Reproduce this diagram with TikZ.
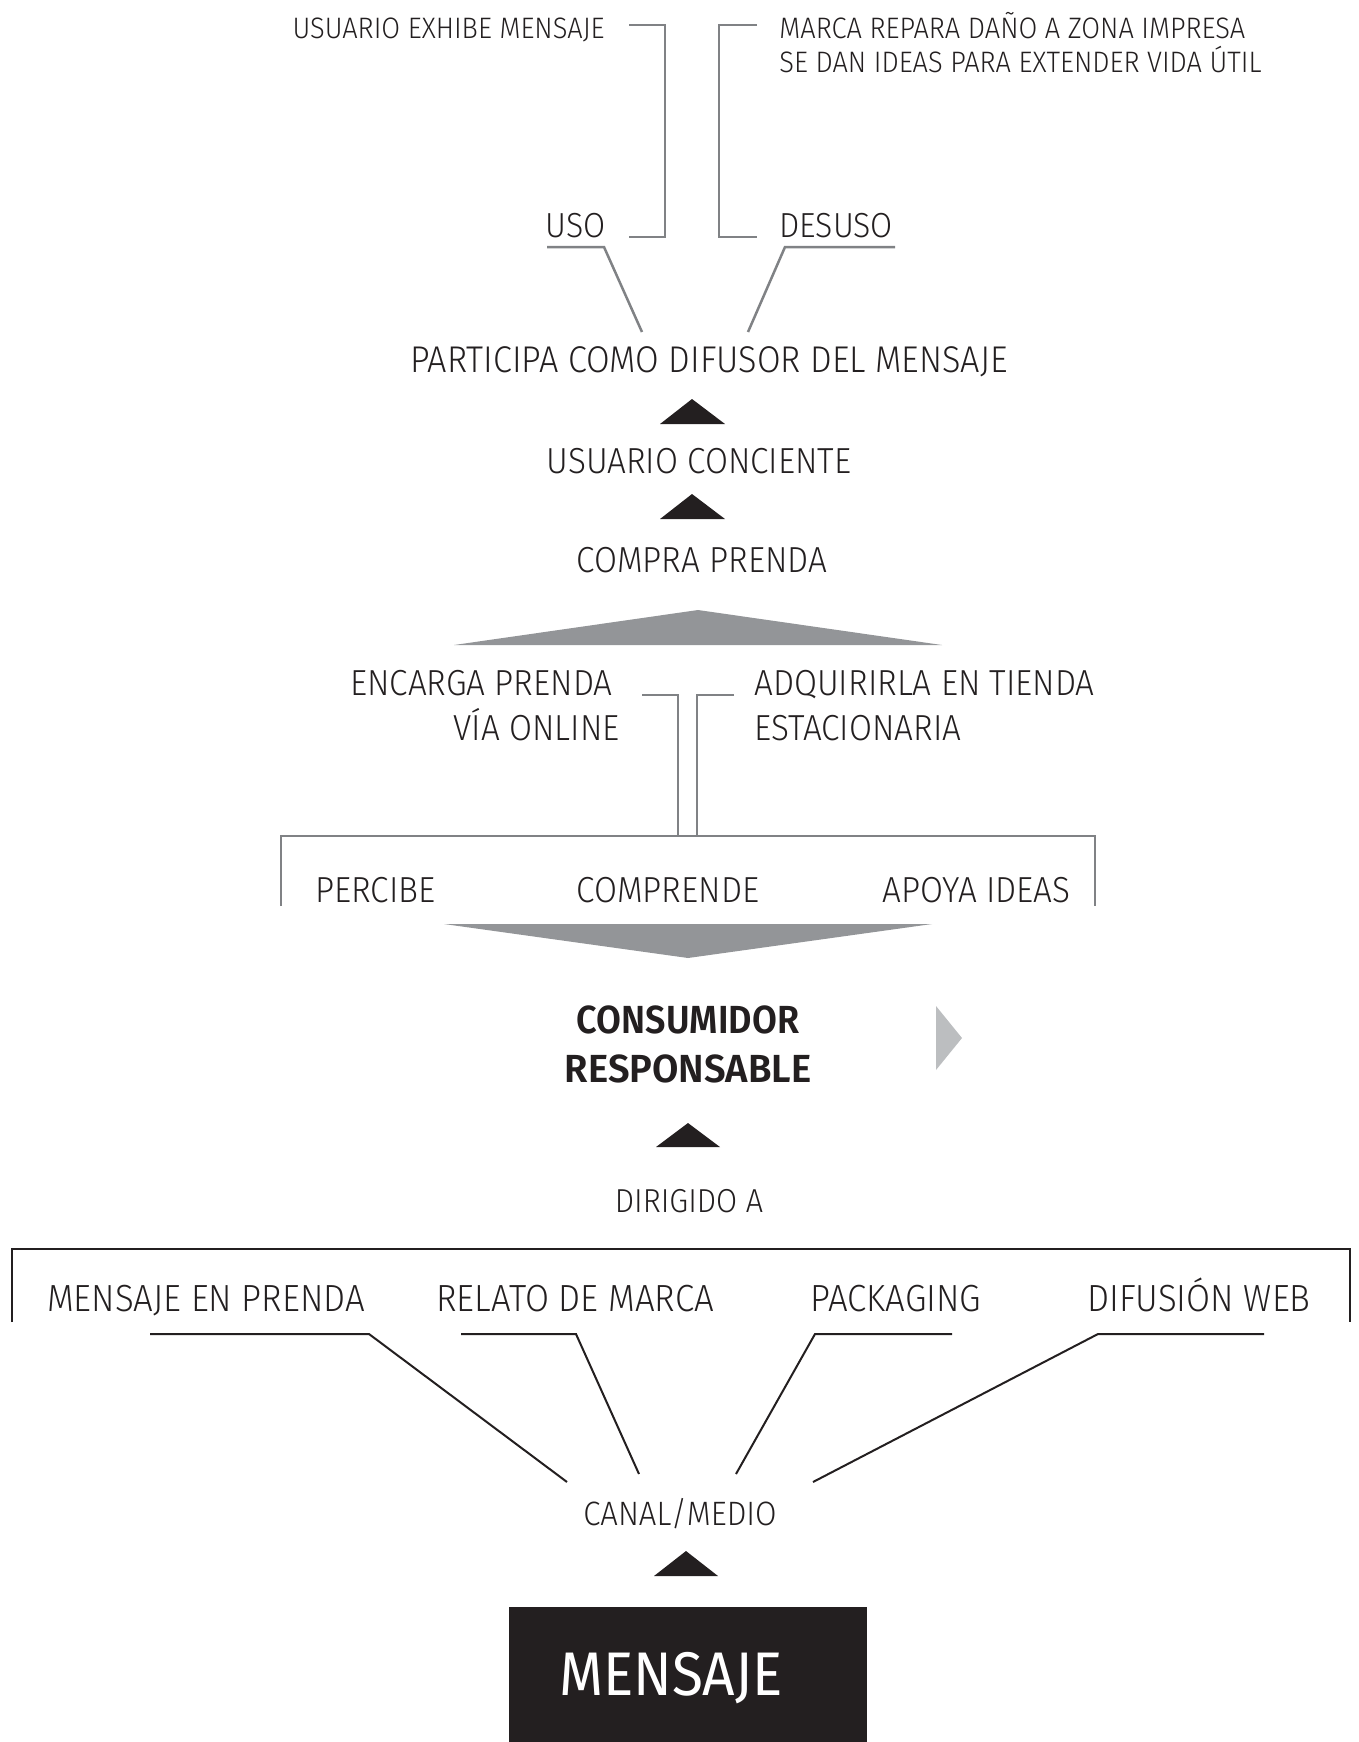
\documentclass[tikz,border=0pt]{standalone}
\usepackage{fontspec}
\setmainfont{Fira Sans}[UprightFont=* Light, FakeStretch=0.92]
\newfontfamily\medf{Fira Sans}[UprightFont=* SemiBold, FakeStretch=0.92]
\newfontfamily\regf{Fira Sans}[FakeStretch=0.92]
\definecolor{ink}{HTML}{231F20}
\definecolor{lgray}{HTML}{808285}
\definecolor{tgray}{HTML}{939598}
\definecolor{pgray}{HTML}{BCBEC0}
\begin{document}
\begin{tikzpicture}[x=0.5pt,y=-0.5pt,
  txt/.style={inner sep=0pt, text=ink, anchor=base},
  small/.style={txt, font=\fontsize{14.8}{17}\selectfont},
  mid/.style={txt, font=\fontsize{18.1}{21}\selectfont},
  midb/.style={txt, font=\fontsize{17.4}{20}\selectfont},
  buy/.style={txt, font=\fontsize{18.1}{21}\selectfont},
  boldt/.style={txt, font=\medf\fontsize{19.6}{23}\selectfont},
  glink/.style={draw=lgray, line width=1.25pt},
  klink/.style={draw=ink, line width=1pt},
  arrowtri/.style={fill=ink},
  widetri/.style={fill=tgray}]
\useasboundingbox (0,0) rectangle (1359,1742);

% ---------- top ----------
\node[small, anchor=base east] (exhibe) at (605,38) {USUARIO EXHIBE MENSAJE};
\node[small, anchor=base west] (marca) at (779,38) {MARCA REPARA DAÑO A ZONA IMPRESA};
\node[small, anchor=base west] (ideas) at (779,72) {SE DAN IDEAS PARA EXTENDER VIDA ÚTIL};
\node[midb, anchor=base east] (uso) at (606,237) {USO};
\node[midb, anchor=base west] (desuso) at (779,237) {DESUSO};
\node[mid, font=\fontsize{18.6}{21}\selectfont] (participa) at (709,372) {PARTICIPA COMO DIFUSOR DEL MENSAJE};

\coordinate (b1a) at (629,25); \coordinate (b1b) at (665,25);
\coordinate (b1c) at (665,237); \coordinate (b1d) at (629,237);
\draw[glink] (b1a) -- (b1b) -- (b1c) -- (b1d);
\coordinate (b2a) at (757,25); \coordinate (b2b) at (719,25);
\coordinate (b2c) at (719,237); \coordinate (b2d) at (757,237);
\draw[glink] (b2a) -- (b2b) -- (b2c) -- (b2d);

\coordinate (u1) at (547,247); \coordinate (u2) at (604,247); \coordinate (u3) at (642,332);
\draw[glink] (u1) -- (u2) -- (u3);
\coordinate (d1) at (895,247); \coordinate (d2) at (785,247); \coordinate (d3) at (748,332);
\draw[glink] (d1) -- (d2) -- (d3);

% ---------- triangles / middle ----------
\fill[arrowtri] (660,424) -- (692,399) -- (725,424) -- cycle;
\node[mid] (conciente) at (699,473) {USUARIO CONCIENTE};
\fill[arrowtri] (660,519) -- (692,494) -- (725,519) -- cycle;
\node[mid] (compra) at (702,572) {COMPRA PRENDA};
\fill[widetri] (454,645) -- (698,610) -- (942,645) -- cycle;

\node[buy, anchor=base east] (encarga) at (613,695) {ENCARGA PRENDA};
\node[buy, anchor=base east] (online) at (620,740) {VÍA ONLINE};
\node[buy, anchor=base west] (adq) at (754,695) {ADQUIRIRLA EN TIENDA};
\node[buy, anchor=base west] (estac) at (754,740) {ESTACIONARIA};

\coordinate (e1) at (642,695); \coordinate (e2) at (678,695); \coordinate (e3) at (678,836);
\draw[glink] (e1) -- (e2) -- (e3);
\coordinate (f1) at (734,695); \coordinate (f2) at (697,695); \coordinate (f3) at (697,836);
\draw[glink] (f1) -- (f2) -- (f3);

\coordinate (p1) at (281,906); \coordinate (p2) at (281,836);
\coordinate (p3) at (1095,836); \coordinate (p4) at (1095,906);
\draw[glink] (p1) -- (p2) -- (p3) -- (p4);
\node[mid, anchor=base west] (percibe) at (315,902) {PERCIBE};
\node[mid] (comprende) at (668,902) {COMPRENDE};
\node[mid, anchor=base east] (apoya) at (1071,902) {APOYA IDEAS};

\fill[widetri] (444,924) -- (932,924) -- (688,958) -- cycle;

\node[boldt] (consumidor) at (688,1033) {CONSUMIDOR};
\node[boldt, xscale=1.06] (responsable) at (688,1082) {RESPONSABLE};
\fill[pgray] (936,1006) -- (962,1038) -- (936,1070) -- cycle;

\fill[arrowtri] (656,1147) -- (688,1123) -- (720,1147) -- cycle;
\node[txt, font=\fontsize{16.6}{20}\selectfont] (dirigido) at (689,1212) {DIRIGIDO A};

% ---------- bottom ----------
\coordinate (q1) at (12,1322); \coordinate (q2) at (12,1249);
\coordinate (q3) at (1350,1249); \coordinate (q4) at (1350,1322);
\draw[klink, line width=1.1pt] (q1) -- (q2) -- (q3) -- (q4);

\node[txt, font=\fontsize{18.9}{22}\selectfont] (enprenda) at (206,1311) {MENSAJE EN PRENDA};
\node[txt, font=\fontsize{18.9}{22}\selectfont] (relato) at (575,1311) {RELATO DE MARCA};
\node[txt, font=\fontsize{18.9}{22}\selectfont] (packaging) at (896,1311) {PACKAGING};
\node[txt, font=\fontsize{18.9}{22}\selectfont] (difusion) at (1199,1311) {DIFUSIÓN WEB};

\node[txt, font=\fontsize{16.9}{20}\selectfont] (canal) at (680,1525) {CANAL/MEDIO};

\coordinate (m1a) at (150,1334); \coordinate (m1b) at (369,1334); \coordinate (m1c) at (567,1482);
\draw[klink] (m1a) -- (m1b) -- (m1c);
\coordinate (m2a) at (461,1334); \coordinate (m2b) at (576,1334); \coordinate (m2c) at (639,1474);
\draw[klink] (m2a) -- (m2b) -- (m2c);
\coordinate (m3a) at (952,1334); \coordinate (m3b) at (815,1334); \coordinate (m3c) at (736,1474);
\draw[klink] (m3a) -- (m3b) -- (m3c);
\coordinate (m4a) at (1264,1334); \coordinate (m4b) at (1098,1334); \coordinate (m4c) at (813,1482);
\draw[klink] (m4a) -- (m4b) -- (m4c);

\fill[arrowtri] (654,1576) -- (686,1551) -- (718,1576) -- cycle;

\node[fill=ink, minimum width=179pt, minimum height=70pt, inner sep=0pt, anchor=north west] (msgbox) at (509,1607) {};
\node[txt, text=white, font=\regf\fontsize{30.8}{34}\selectfont] (mensaje) at (671,1695) {MENSAJE};
\end{tikzpicture}
\end{document}
